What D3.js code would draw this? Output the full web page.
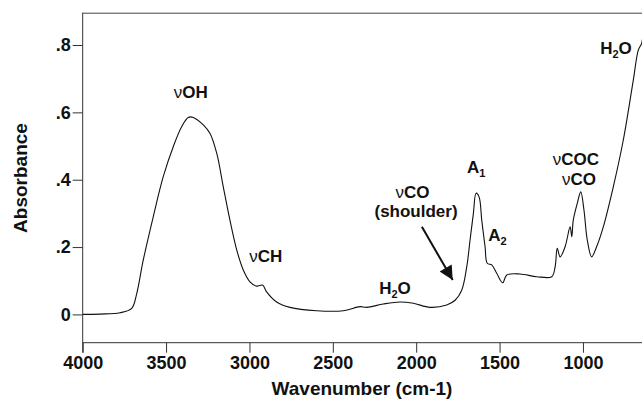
<!DOCTYPE html>
<html>
<head>
<meta charset="utf-8">
<script src="https://cdn.jsdelivr.net/npm/d3@7"></script>
<style>
  body { margin: 0; background: #fff; }
  svg { display: block; font-family: "Liberation Sans", Arial, sans-serif; }
  .axis text { font-size: 18px; font-weight: bold; fill: #111; }
  .axis path, .axis line { stroke: #333; }
  .lbl { font-size: 17px; font-weight: bold; fill: #111; }
</style>
</head>
<body>
<svg id="chart" width="642" height="400"></svg>
<script>
// spectrum
const wavenumber = [4000, 3896, 3776, 3706, 3676, 3637, 3577, 3517, 3457, 3406, 3367, 3337, 3277, 3237,
  3196, 3157, 3117, 3076, 3037, 2997, 2957, 2921, 2897, 2837, 2757, 2597, 2437, 2337, 2297, 2197,
  2097, 2017, 1917, 1817, 1767, 1727, 1697, 1677, 1657, 1641, 1623, 1607, 1587, 1574, 1547, 1517,
  1481, 1457, 1377, 1277, 1187, 1167, 1154, 1137, 1107, 1077, 1067, 1058, 1034, 1013, 994, 974,
  948, 918, 878, 818, 758, 698, 668, 648, 640]
const absorbance = [0.0, 0.001, 0.005, 0.018, 0.062, 0.161, 0.290, 0.409, 0.498, 0.558, 0.585, 0.585, 0.563, 0.538,
  0.478, 0.379, 0.280, 0.191, 0.132, 0.097, 0.084, 0.087, 0.067, 0.037, 0.021, 0.011, 0.011, 0.023, 0.021, 0.031,
  0.037, 0.033, 0.021, 0.028, 0.042, 0.072, 0.141, 0.221, 0.300, 0.360, 0.349, 0.280, 0.201, 0.152, 0.147, 0.122,
  0.094, 0.117, 0.120, 0.112, 0.112, 0.141, 0.196, 0.171, 0.201, 0.260, 0.231, 0.280, 0.330, 0.364, 0.310, 0.221,
  0.171, 0.201, 0.260, 0.379, 0.518, 0.696, 0.785, 0.805, 0.83]

const xTicks = [4000, 3500, 3000, 2500, 2000, 1500, 1000]
const yTicks = [0, 0.2, 0.4, 0.6, 0.8]

// band annotations: [nu prefix, main text, subscript, tail, wavenumber, absorbance]
const labelNu = [true, true, false, true, false, false, false, true, true, false]
const labelMain = ["OH", "CH", "H", "CO", "(shoulder)", "A", "A", "COC", "CO", "H"]
const labelSub = ["", "", "2", "", "", "1", "2", "", "", "2"]
const labelTail = ["", "", "O", "", "", "", "", "", "", "O"]
const labelWn = [3352, 2902, 2127, 2022, 2001, 1640, 1513, 1043, 1024, 802]
const labelAbs = [0.643, 0.156, 0.060, 0.345, 0.289, 0.419, 0.219, 0.444, 0.384, 0.772]

// arrow to the vCO shoulder
const arrowFrom = [1966, 0.260]
const arrowTo = [1781, 0.102]

const W = 642, H = 400
const svg = d3.select("#chart")

const x = d3.scaleLinear().domain([4000, 400]).range([82.7, 683])
const y = d3.scaleLinear().domain([-0.084, 0.896]).range([342.7, 12.7])

svg.append("defs").append("clipPath").attr("id", "clip")
  .append("rect").attr("x", 82.7).attr("y", 0).attr("width", W - 82.7).attr("height", 342.7)

svg.append("defs").append("marker")
  .attr("id", "head")
  .attr("viewBox", "0 0 10 10")
  .attr("refX", 10).attr("refY", 5)
  .attr("markerWidth", 20).attr("markerHeight", 14)
  .attr("markerUnits", "userSpaceOnUse")
  .attr("orient", "auto")
  .append("path").attr("d", "M0,0L10,5L0,10Z").attr("fill", "#111")

// frame top line
svg.append("line")
  .attr("x1", x(4000)).attr("x2", W)
  .attr("y1", y(0.896) + 0.5).attr("y2", y(0.896) + 0.5)
  .attr("stroke", "#444")

// axes
const xAxisCall = d3.axisBottom(x).tickValues(xTicks).tickSize(10).tickPadding(4).tickFormat(d3.format("d"))
svg.append("g").attr("class", "axis")
  .attr("transform", `translate(0, ${y(-0.084)})`)
  .call(xAxisCall)
  .call(g => g.select(".domain").attr("d", `M${x(4000)},0H${W}`))

const yAxisCall = d3.axisLeft(y).tickValues(yTicks).tickSize(10).tickPadding(2)
  .tickFormat(d => d === 0 ? "0" : d3.format(".1f")(d).replace(/^0/, ""))
svg.append("g").attr("class", "axis")
  .attr("transform", `translate(${x(4000)}, 0)`)
  .call(yAxisCall)
  .call(g => g.select(".domain").attr("d", `M0,${y(0.896)}V${y(-0.084) + 10}`))

// axis titles
svg.append("text")
  .attr("x", 362).attr("y", 395)
  .attr("text-anchor", "middle")
  .attr("font-size", "19px").attr("font-weight", "bold").attr("fill", "#111")
  .text("Wavenumber (cm-1)")

svg.append("text")
  .attr("transform", "translate(27, 178) rotate(-90)")
  .attr("text-anchor", "middle")
  .attr("font-size", "19px").attr("font-weight", "bold").attr("fill", "#111")
  .text("Absorbance")

// spectrum
const line = d3.line()
  .x((d, i) => x(wavenumber[i]))
  .y(d => y(d))
  .curve(d3.curveCatmullRom.alpha(0.5))

svg.append("path")
  .attr("clip-path", "url(#clip)")
  .attr("d", line(absorbance))
  .attr("fill", "none")
  .attr("stroke", "#111")
  .attr("stroke-width", 1.1)

// band labels
labelMain.forEach((m, i) => {
  const t = svg.append("text").attr("class", "lbl")
    .attr("x", x(labelWn[i])).attr("y", y(labelAbs[i]))
    .attr("text-anchor", "middle")
  if (labelNu[i]) t.append("tspan").attr("font-weight", "normal").text("\u03bd")
  t.append("tspan").text(m)
  if (labelSub[i]) t.append("tspan").attr("font-size", "11px").attr("dy", 4).text(labelSub[i])
  if (labelTail[i]) t.append("tspan").attr("dy", -4).text(labelTail[i])
})

// arrow
svg.append("line")
  .attr("x1", x(arrowFrom[0])).attr("y1", y(arrowFrom[1]))
  .attr("x2", x(arrowTo[0])).attr("y2", y(arrowTo[1]))
  .attr("stroke", "#111").attr("stroke-width", 2)
  .attr("marker-end", "url(#head)")
</script>
</body>
</html>
